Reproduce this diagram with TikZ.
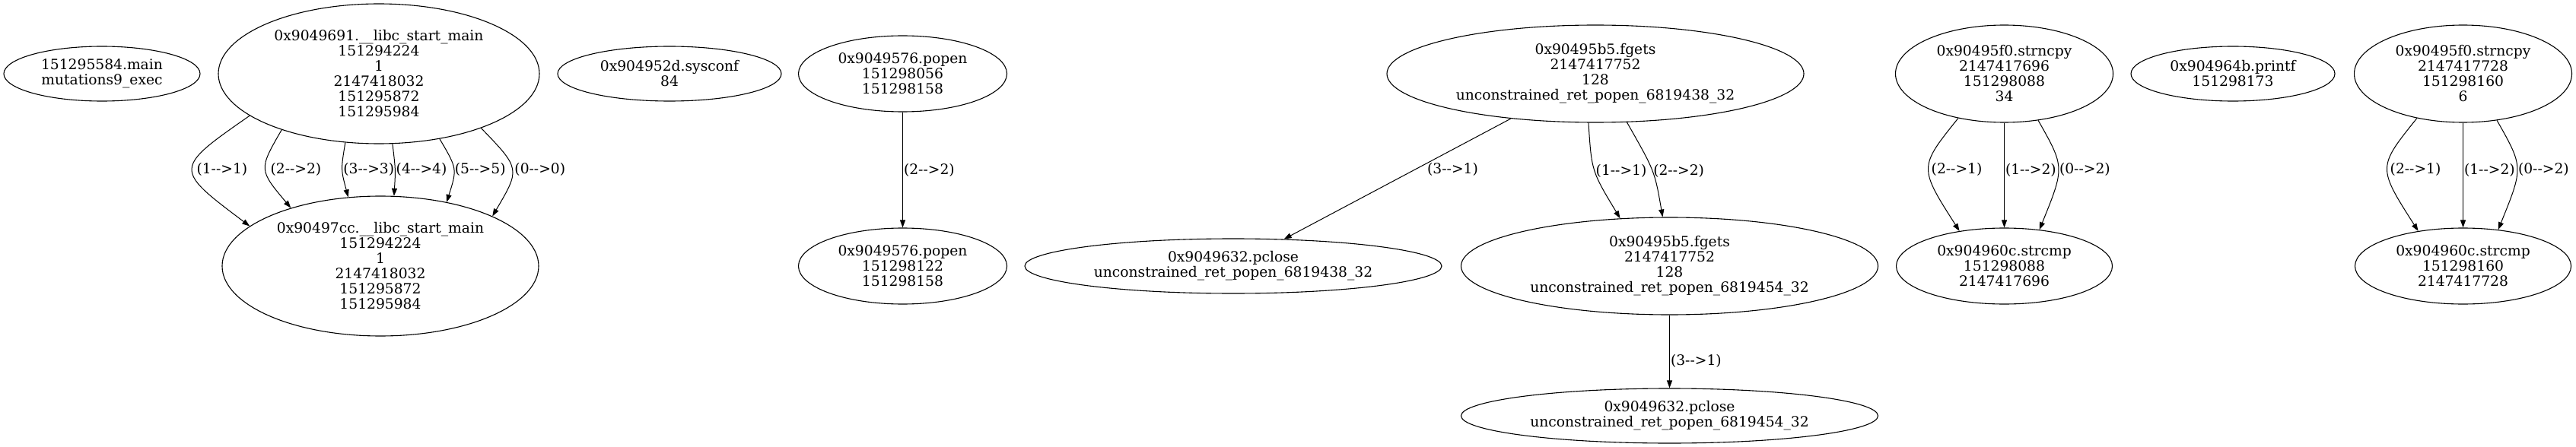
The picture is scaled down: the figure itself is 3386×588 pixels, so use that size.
\documentclass[tikz,border=0pt]{standalone}
\usepackage{fontspec}
\setmainfont{DejaVu Serif}
\usetikzlibrary{shapes.geometric}
\usetikzlibrary{arrows.meta}
\newcommand{\elab}[2]{(#1-\kern0pt->#2)}
\tikzset{
x=1pt, y=-1pt, % one unit is one pixel of the reference, y grows downwards
fn/.style={ellipse, draw, line width=1.1pt, inner sep=0pt, align=center,
  font=\fontsize{18.7}{20}\selectfont}, % function call nodes
lbl/.style={anchor=west, inner sep=1pt, font=\fontsize{18.7}{20}\selectfont}, % edge labels
conn/.style={draw, line width=1pt, -{Triangle[length=10pt,width=7pt]}}, % argument flow
}
\begin{document}
\begin{tikzpicture}
\useasboundingbox (0,0) rectangle (3386,588);
%main, __libc_start_main, sysconf
\node[fn, minimum width=258, minimum height=72] (MAIN) at (134,97) {151295584.main\\mutations9\_exec};
\node[fn, minimum width=422, minimum height=184] (LSM1) at (498,97) {0x9049691.\_\_libc\_start\_main\\151294224\\1\\2147418032\\151295872\\151295984};
\node[fn, minimum width=416, minimum height=184] (LSM2) at (500,350) {0x90497cc.\_\_libc\_start\_main\\151294224\\1\\2147418032\\151295872\\151295984};
\node[fn, minimum width=294, minimum height=72] (SYSCONF) at (880,97) {0x904952d.sysconf\\84};
%popen
\node[fn, minimum width=274, minimum height=100] (POPEN1) at (1186.5,97) {0x9049576.popen\\151298056\\151298158};
\node[fn, minimum width=274, minimum height=100] (POPEN2) at (1186.5,350) {0x9049576.popen\\151298122\\151298158};
%fgets, pclose
\node[fn, minimum width=548, minimum height=72] (PCLOSE1) at (1621,350) {0x9049632.pclose\\unconstrained\_ret\_popen\_6819438\_32};
\node[fn, minimum width=548, minimum height=128] (FGETS1) at (2097,97) {0x90495b5.fgets\\2147417752\\128\\unconstrained\_ret\_popen\_6819438\_32};
\node[fn, minimum width=548, minimum height=128] (FGETS2) at (2194.5,350) {0x90495b5.fgets\\2147417752\\128\\unconstrained\_ret\_popen\_6819454\_32};
\node[fn, minimum width=548, minimum height=72] (PCLOSE2) at (2194.5,547) {0x9049632.pclose\\unconstrained\_ret\_popen\_6819454\_32};
%strncpy, strcmp, printf
\node[fn, minimum width=286, minimum height=128] (STRNCPY1) at (2634.5,97) {0x90495f0.strncpy\\2147417696\\151298088\\34};
\node[fn, minimum width=284, minimum height=100] (STRCMP1) at (2634.5,350) {0x904960c.strcmp\\151298088\\2147417696};
\node[fn, minimum width=268, minimum height=72] (PRINTF) at (2935,97) {0x904964b.printf\\151298173};
\node[fn, minimum width=286, minimum height=128] (STRNCPY2) at (3237.5,97) {0x90495f0.strncpy\\2147417728\\151298160\\6};
\node[fn, minimum width=284, minimum height=100] (STRCMP2) at (3237.5,350) {0x904960c.strcmp\\151298160\\2147417728};
%__libc_start_main -> __libc_start_main
\draw[conn] (LSM1.198) .. controls (228,222) .. (LSM2.163) node[lbl, pos=0.5, xshift=4] {\elab{1}{1}};
\draw[conn] (LSM1.210) .. controls (340,223) .. (LSM2.147) node[lbl, pos=0.5, xshift=5] {\elab{2}{2}};
\draw[conn] (LSM1.244) .. controls (448,223) .. (LSM2.115) node[lbl, pos=0.5] {\elab{3}{3}};
\draw[conn] (LSM1.281) .. controls (520,223) .. (LSM2.79) node[lbl, pos=0.5] {\elab{4}{4}};
\draw[conn] (LSM1.313) .. controls (601,222) .. (LSM2.44) node[lbl, pos=0.5] {\elab{5}{5}};
\draw[conn] (LSM1.332) .. controls (684,222) .. (LSM2.24) node[lbl, pos=0.5, xshift=2] {\elab{0}{0}};
%popen -> popen
\draw[conn] (POPEN1) -- (POPEN2) node[lbl, pos=0.5] {\elab{2}{2}};
%fgets -> pclose, fgets
\draw[conn] (FGETS1) -- (PCLOSE1) node[lbl, pos=0.42, xshift=14] {\elab{3}{1}};
\draw[conn] (FGETS1.262) .. controls (2092,225) .. (FGETS2.136) node[lbl, pos=0.5] {\elab{1}{1}};
\draw[conn] (FGETS1.303) .. controls (2175,225) .. (FGETS2.98) node[lbl, pos=0.5] {\elab{2}{2}};
\draw[conn] (FGETS2) -- (PCLOSE2) node[lbl, pos=0.63] {\elab{3}{1}};
%strncpy -> strcmp
\draw[conn] (STRNCPY1.224) .. controls (2522,220) .. (STRCMP1.142) node[lbl, pos=0.5, xshift=2] {\elab{2}{1}};
\draw[conn] (STRNCPY1) -- (STRCMP1) node[lbl, pos=0.45] {\elab{1}{2}};
\draw[conn] (STRNCPY1.306) .. controls (2714,220) .. (STRCMP1.46) node[lbl, pos=0.5] {\elab{0}{2}};
\draw[conn] (STRNCPY2.224) .. controls (3125,220) .. (STRCMP2.142) node[lbl, pos=0.5, xshift=2] {\elab{2}{1}};
\draw[conn] (STRNCPY2) -- (STRCMP2) node[lbl, pos=0.45] {\elab{1}{2}};
\draw[conn] (STRNCPY2.306) .. controls (3317,220) .. (STRCMP2.46) node[lbl, pos=0.5] {\elab{0}{2}};
\end{tikzpicture}
\end{document}
